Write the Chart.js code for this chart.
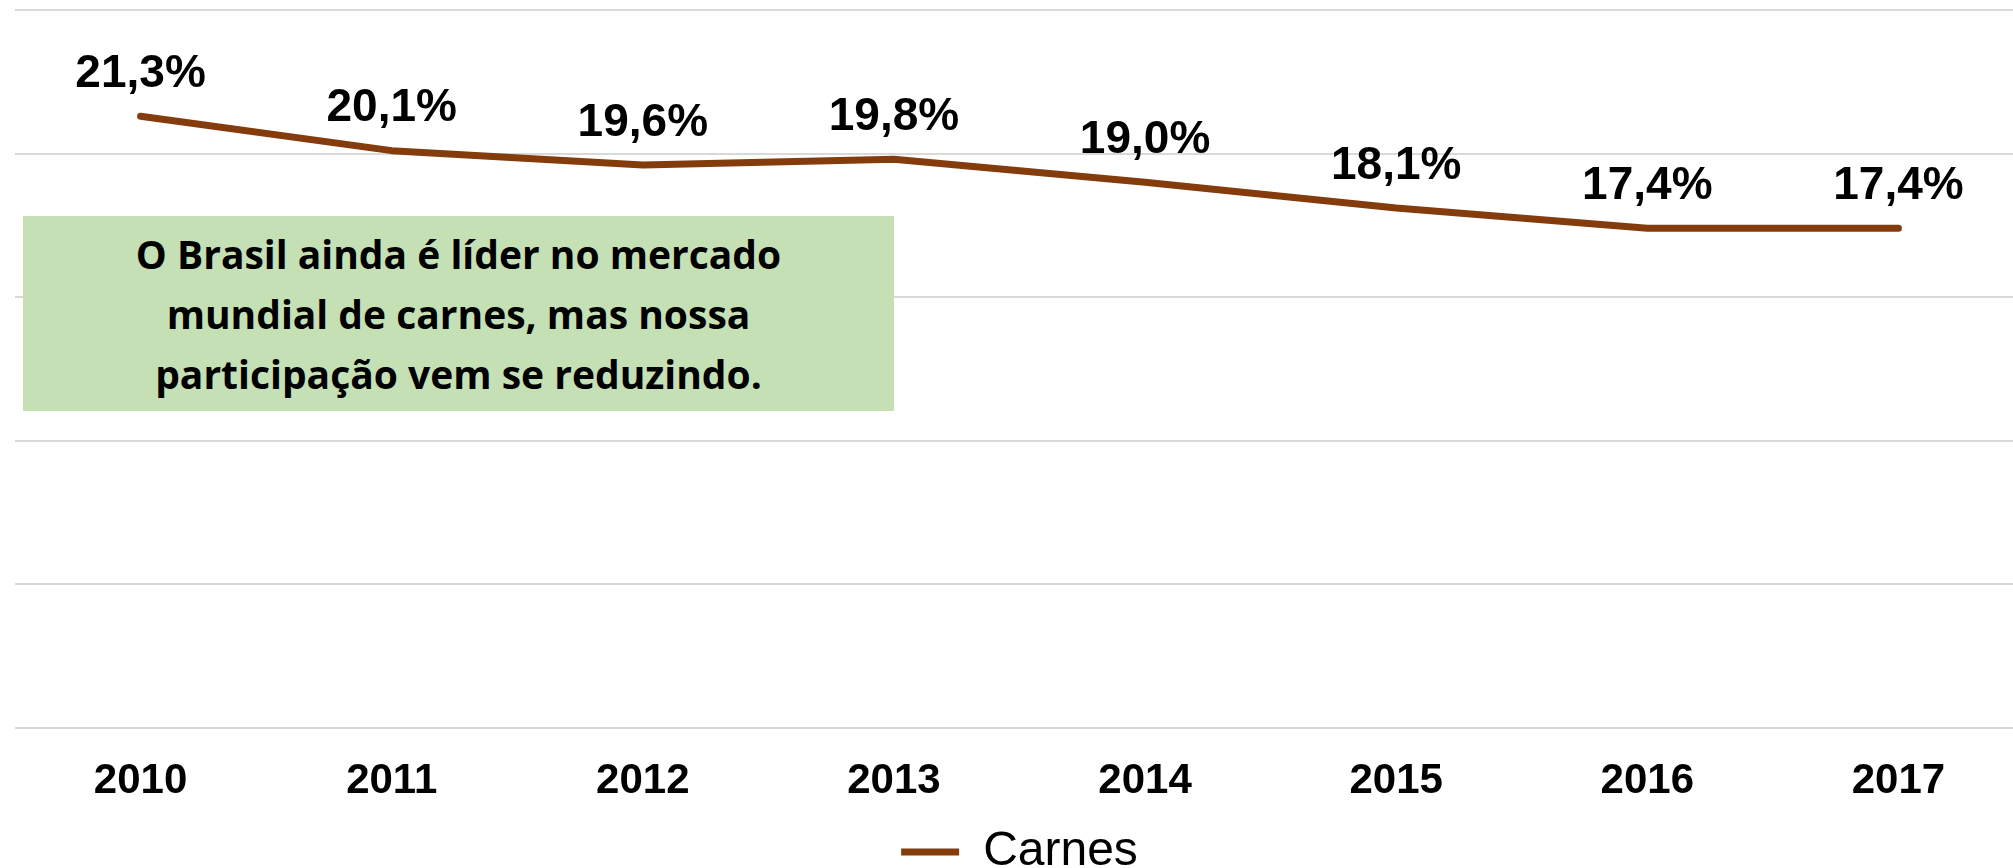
<!DOCTYPE html>
<html lang="pt-BR">
<head>
<meta charset="utf-8">
<title>Carnes - participação no mercado mundial</title>
<script src="https://cdn.jsdelivr.net/npm/chart.js@4.4.1/dist/chart.umd.min.js"></script>
<style>
  html, body {
    margin: 0;
    padding: 0;
    background: #ffffff;
    overflow: hidden;
  }
  #wrap {
    position: relative;
    width: 2013px;
    height: 868px;
    overflow: hidden;
  }
  #grafico {
    position: absolute;
    left: 0;
    top: 0;
  }
  /* caixa de destaque verde */
  #nota {
    position: absolute;
    left: 23px;
    top: 216px;
    width: 871px;
    height: 195px;
    background: #c5e0b4;
    display: flex;
    align-items: center;
    justify-content: center;
    text-align: center;
    font-family: "Open Sans", "Noto Sans", sans-serif;
    font-weight: 700;
    font-size: 39px;
    line-height: 60px;
    color: #000000;
  }
</style>
</head>
<body>
<div id="wrap">
  <canvas id="grafico" width="2030" height="886"></canvas>
  <div id="nota">O Brasil ainda é líder no mercado<br>mundial de carnes, mas nossa<br>participação vem se reduzindo.</div>
</div>

<script>
// Dados
const anos = ["2010", "2011", "2012", "2013", "2014", "2015", "2016", "2017"];
const carnes = [21.3, 20.1, 19.6, 19.8, 19.0, 18.1, 17.4, 17.4];
const nomeSerie = "Carnes";
const eixoY = { min: 0, max: 25, passo: 5 };

const corLinha = "#843c0c";
const corGrade = "#d9d9d9";

// formato brasileiro: 21,3%
function formatarPct(v) {
  return v.toFixed(1).replace(".", ",") + "%";
}

// Rótulos de dados acima de cada ponto
const rotulosDados = {
  id: "rotulosDados",
  afterDatasetsDraw(chart) {
    const ctx = chart.ctx;
    const meta = chart.getDatasetMeta(0);
    ctx.save();
    ctx.font = "bold 46px 'Liberation Sans', Arial, sans-serif";
    ctx.fillStyle = "#000000";
    ctx.textAlign = "center";
    ctx.textBaseline = "middle";
    meta.data.forEach((pt, i) => {
      ctx.fillText(formatarPct(carnes[i]), pt.x, pt.y - 42);
    });
    ctx.restore();
  },
};

const ctx = document.getElementById("grafico").getContext("2d");

new Chart(ctx, {
  type: "line",
  data: {
    labels: anos,
    datasets: [
      {
        label: nomeSerie,
        data: carnes,
        borderColor: corLinha,
        backgroundColor: corLinha,
        borderWidth: 7,
        borderCapStyle: "round",
        borderJoinStyle: "round",
        tension: 0,
        pointRadius: 0,
        pointHoverRadius: 0,
        pointStyle: "line",
        fill: false,
      },
    ],
  },
  options: {
    responsive: false,
    animation: false,
    layout: {
      padding: { left: 15, right: 6, top: 10, bottom: 0 },
    },
    scales: {
      x: {
        offset: true,
        grid: { display: false },
        border: { display: false },
        ticks: {
          color: "#000000",
          padding: 21,
          font: { family: "'Liberation Sans', Arial, sans-serif", size: 42, weight: "bold" },
          maxRotation: 0,
        },
      },
      y: {
        min: eixoY.min,
        max: eixoY.max,
        ticks: { display: false, stepSize: eixoY.passo },
        grid: { color: corGrade, lineWidth: 2, drawTicks: false },
        border: { display: false },
      },
    },
    plugins: {
      legend: {
        display: true,
        position: "bottom",
        labels: {
          usePointStyle: true,
          pointStyleWidth: 58,
          padding: 0,
          color: "#000000",
          font: { family: "'Liberation Sans', Arial, sans-serif", size: 48 },
        },
      },
      tooltip: { enabled: false },
    },
  },
  plugins: [rotulosDados],
});
</script>
</body>
</html>
